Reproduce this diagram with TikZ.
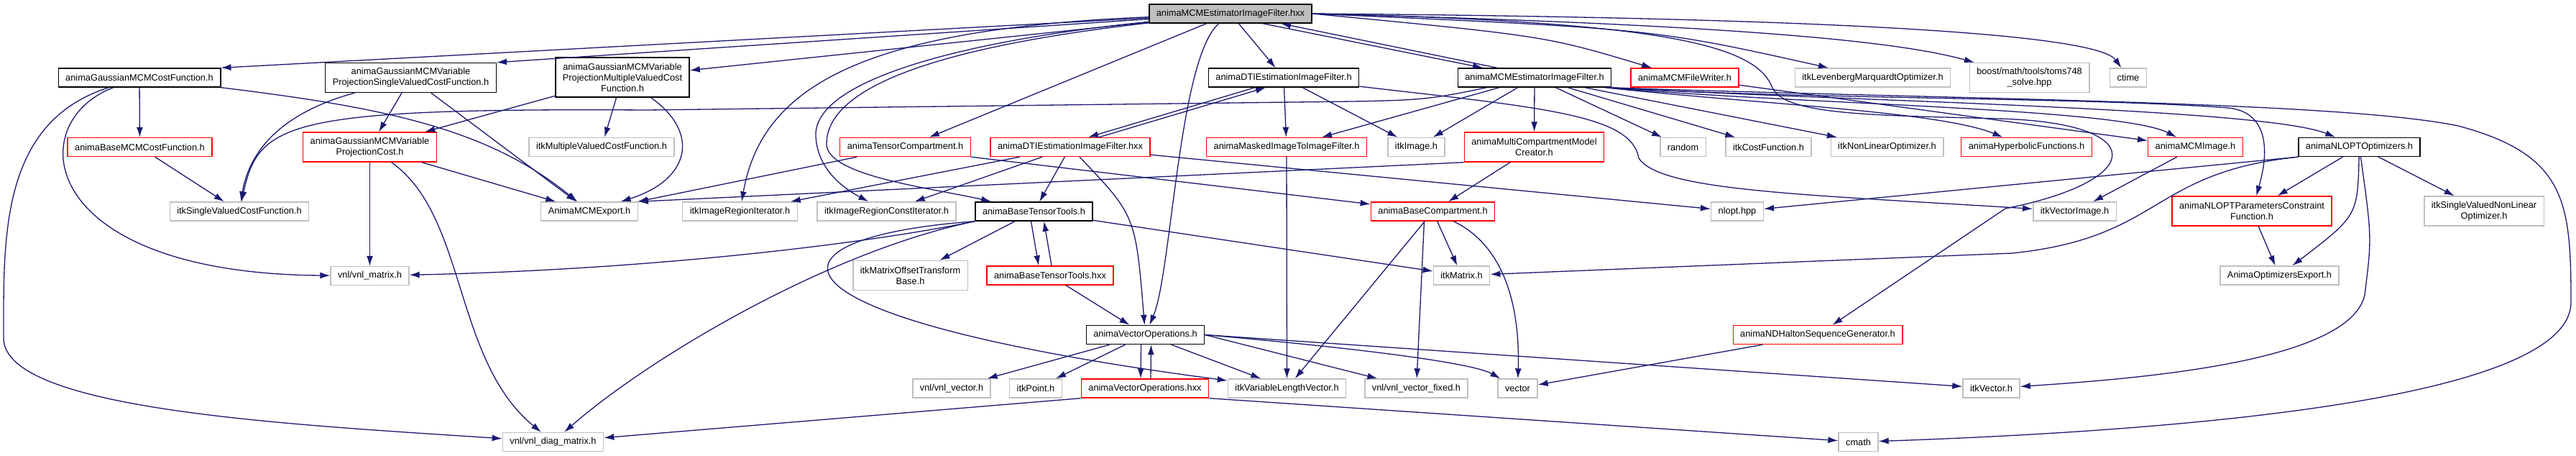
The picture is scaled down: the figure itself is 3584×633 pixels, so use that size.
\documentclass[tikz,border=0pt]{standalone}
\usepackage{fontspec}
\setmainfont{Liberation Sans}
\usetikzlibrary{arrows.meta}
\definecolor{edgeblue}{HTML}{191970}
\definecolor{extgrey}{HTML}{BFBFBF}

\begin{document}
\begin{tikzpicture}[
    x=1pt, y=-1pt,
    file/.style={
        draw,
        line width=1.4pt,
        minimum height=26pt,
        inner xsep=10pt,
        inner ysep=3pt,
        align=center,
        font=\fontsize{12.8}{15}\selectfont
    },
    intern/.style={file, draw=black},
    trunc/.style={file, draw=red},
    extern/.style={file, draw=extgrey},
    rootfile/.style={file, draw=black, fill=extgrey},
    dep/.style={-{Latex[length=14pt, width=9pt]}, draw=edgeblue, line width=1.3pt}
]
\useasboundingbox (0,0) rectangle (3584,633);

\node[rootfile] (root) at (1712,19) {animaMCMEstimatorImageFilter.hxx};

\node[intern] (gausscost) at (194,108) {animaGaussianMCMCostFunction.h};
\node[intern, minimum height=41pt] (gausssingle) at (571.5,108) {animaGaussianMCMVariable\\ProjectionSingleValuedCostFunction.h};
\node[intern, minimum height=55pt] (gaussmulti) at (866,107.5) {animaGaussianMCMVariable\\ProjectionMultipleValuedCost\\Function.h};
\node[intern] (dtih) at (1786,108) {animaDTIEstimationImageFilter.h};
\node[intern] (mcmh) at (2135,108) {animaMCMEstimatorImageFilter.h};
\node[trunc] (mcmfilewriter) at (2344,108) {animaMCMFileWriter.h};
\node[extern] (itklm) at (2605.5,108) {itkLevenbergMarquardtOptimizer.h};
\node[extern, minimum height=41pt] (boost) at (2823.5,108) {boost/math/tools/toms748\\\_solve.hpp};
\node[extern] (ctime) at (2961,108) {ctime};

\node[trunc] (basemcmcost) at (194.5,204.5) {animaBaseMCMCostFunction.h};
\node[trunc, minimum height=41pt] (gaussprojcost) at (514.5,204.5) {animaGaussianMCMVariable\\ProjectionCost.h};
\node[extern] (itkmultivcf) at (837,204.5) {itkMultipleValuedCostFunction.h};
\node[trunc] (tensorcomp) at (1259.5,204.5) {animaTensorCompartment.h};
\node[trunc] (dtihxx) at (1489,204.5) {animaDTIEstimationImageFilter.hxx};
\node[trunc] (masked) at (1790,204.5) {animaMaskedImageToImageFilter.h};
\node[extern] (itkimage) at (1970.5,204.5) {itkImage.h};
\node[trunc, minimum height=41pt] (mcmcreator) at (2134.5,204.5) {animaMultiCompartmentModel\\Creator.h};
\node[extern] (random) at (2341.5,204.5) {random};
\node[extern] (itkcostfn) at (2460.5,204.5) {itkCostFunction.h};
\node[extern] (itknonlinopt) at (2625.5,204.5) {itkNonLinearOptimizer.h};
\node[trunc] (hyperbolic) at (2819.5,204.5) {animaHyperbolicFunctions.h};
\node[trunc] (mcmimage) at (3054.5,204.5) {animaMCMImage.h};
\node[intern] (nloptopt) at (3282.5,204.5) {animaNLOPTOptimizers.h};

\node[extern] (itksinglevcf) at (333,294) {itkSingleValuedCostFunction.h};
\node[extern] (mcmexport) at (820,294) {AnimaMCMExport.h};
\node[extern] (itkregioniter) at (1029.5,294) {itkImageRegionIterator.h};
\node[extern] (itkregionconstiter) at (1233.5,294) {itkImageRegionConstIterator.h};
\node[intern] (tensortools) at (1438.5,294) {animaBaseTensorTools.h};
\node[trunc] (basecomp) at (1993.5,294) {animaBaseCompartment.h};
\node[extern] (nlopt) at (2417,294) {nlopt.hpp};
\node[extern] (itkvectorimage) at (2886.5,294) {itkVectorImage.h};
\node[trunc, minimum height=41pt] (nloptconstraint) at (3133,293.5) {animaNLOPTParametersConstraint\\Function.h};
\node[extern, minimum height=41pt] (itksvnlo) at (3456,293.5) {itkSingleValuedNonLinear\\Optimizer.h};

\node[extern] (vnlmatrix) at (514.5,383.5) {vnl/vnl\_matrix.h};
\node[extern, minimum height=41pt] (matrixoffset) at (1266.5,383) {itkMatrixOffsetTransform\\Base.h};
\node[trunc] (tensortoolshxx) at (1461,383) {animaBaseTensorTools.hxx};
\node[extern] (itkmatrix) at (2033.5,383) {itkMatrix.h};
\node[extern] (optexport) at (3171.5,383) {AnimaOptimizersExport.h};

\node[intern] (vectoropsh) at (1593.5,465.5) {animaVectorOperations.h};
\node[trunc] (halton) at (2529,465.5) {animaNDHaltonSequenceGenerator.h};

\node[extern] (vnlvector) at (1324,540) {vnl/vnl\_vector.h};
\node[extern] (itkpoint) at (1441,540) {itkPoint.h};
\node[trunc] (vectoropshxx) at (1593,540) {animaVectorOperations.hxx};
\node[extern] (itkvlv) at (1790.5,540) {itkVariableLengthVector.h};
\node[extern] (vnlvectorfixed) at (1970.5,540) {vnl/vnl\_vector\_fixed.h};
\node[extern] (vector) at (2111.5,540) {vector};
\node[extern] (itkvector) at (2770.5,540) {itkVector.h};

\node[extern] (vnldiag) at (769.5,614.5) {vnl/vnl\_diag\_matrix.h};
\node[extern] (cmath) at (2585.5,614.5) {cmath};

\draw[dep] (root) -- (gausscost.north east);
\draw[dep] (root) -- (gausssingle.north east);
\draw[dep] (root) -- (gaussmulti);
\draw[dep] (root) .. controls (1200,40) and (1060,120) .. (itkregioniter);
\draw[dep] (root) .. controls (1350,55) and (1130,110) .. (1135,190) .. controls (1138,240) and (1180,265) .. (itkregionconstiter);
\draw[dep] (root) .. controls (1350,60) and (1150,110) .. (1150,200) .. controls (1150,245) and (1300,262) .. (tensortools);
\draw[dep] (root) -- (tensorcomp);
\draw[dep] (root) .. controls (1640,80) and (1630,380) .. (vectoropsh);
\draw[dep] (root) -- (dtih);
\draw[dep] ([xshift=45]root.south) -- ([xshift=-72]mcmh.north);
\draw[dep] ([xshift=-52]mcmh.north) -- ([xshift=70]root.south);
\draw[dep] (root.east) .. controls (2150,50) .. (mcmfilewriter);
\draw[dep] (root.east) .. controls (2300,40) .. (itklm);
\draw[dep] (root.east) .. controls (2450,35) and (2650,60) .. (boost);
\draw[dep] (root.east) .. controls (2600,25) and (2920,50) .. (ctime);
\draw[dep] (root.east) .. controls (2300,30) and (2440,60) .. (2465,120) .. controls (2480,160) and (2600,160) .. (2780,165) .. controls (2990,170) and (2990,250) .. (2790,290) -- (halton);

\draw[dep] (gausscost) -- (basemcmcost);
\draw[dep] (gausscost.south east) .. controls (540,150) and (680,180) .. (mcmexport);
\draw[dep] (gausscost) .. controls (30,170) and (50,380) .. (vnlmatrix);
\draw[dep] (gausscost) .. controls (0,170) and (5,330) .. (5,470) .. controls (5,570) and (400,590) .. (vnldiag);

\draw[dep] (gausssingle) .. controls (380,160) and (345,220) .. (itksinglevcf);
\draw[dep] (gausssingle) -- (gaussprojcost);
\draw[dep] (gausssingle) -- (mcmexport);

\draw[dep] (gaussmulti) -- (gaussprojcost);
\draw[dep] (gaussmulti) -- (itkmultivcf);
\draw[dep] (gaussmulti) .. controls (975,185) and (960,250) .. (mcmexport);

\draw[dep] (basemcmcost) -- (itksinglevcf);

\draw[dep] (gaussprojcost) -- (vnlmatrix);
\draw[dep] (gaussprojcost) .. controls (650,300) and (630,500) .. (vnldiag);
\draw[dep] (gaussprojcost) -- (mcmexport);

\draw[dep] ([xshift=-40]dtih.south) -- ([xshift=25]dtihxx.north);
\draw[dep] ([xshift=40]dtihxx.north) -- ([xshift=-25]dtih.south);
\draw[dep] (dtih) -- (masked);
\draw[dep] (dtih) -- (itkimage);
\draw[dep] (dtih) .. controls (2150,150) and (2270,160) .. (2280,220) .. controls (2310,265) and (2500,270) .. (itkvectorimage);

\draw[dep] (mcmh) .. controls (1980,140) .. (1800,142) -- (900,153) .. controls (400,150) and (360,170) .. (itksinglevcf);
\draw[dep] (mcmh) -- (masked);
\draw[dep] (mcmh) -- (itkimage);
\draw[dep] (mcmh) -- (mcmcreator);
\draw[dep] (mcmh) -- (random);
\draw[dep] (mcmh) -- (itkcostfn);
\draw[dep] (mcmh) -- (itknonlinopt);
\draw[dep] ([xshift=-10]mcmh.south east) .. controls (2450,145) and (2700,155) .. (hyperbolic);
\draw[dep] ([xshift=-8]mcmh.south east) .. controls (2500,145) and (2950,150) .. (mcmimage);
\draw[dep] ([xshift=-6]mcmh.south east) .. controls (2550,140) and (3150,150) .. (nloptopt);
\draw[dep] ([xshift=-4]mcmh.south east) .. controls (2500,138) and (2900,135) .. (3100,150) .. controls (3150,155) and (3160,200) .. (nloptconstraint);
\draw[dep] ([xshift=-2]mcmh.south east) .. controls (2700,138) and (3250,140) .. (3420,175) .. controls (3570,215) and (3577,280) .. (3577,420) .. controls (3577,560) and (3000,600) .. (cmath);

\draw[dep] (dtihxx) -- (itkregioniter);
\draw[dep] (dtihxx) -- (itkregionconstiter);
\draw[dep] (dtihxx) -- (tensortools);
\draw[dep] (dtihxx) .. controls (1580,300) .. (vectoropsh);
\draw[dep] (dtihxx) -- (nlopt);

\draw[dep] (tensorcomp) -- (mcmexport);
\draw[dep] (tensorcomp.south east) -- (basecomp);

\draw[dep] (masked) -- (itkvlv);

\draw[dep] (mcmcreator.south west) -- (mcmexport.north east);
\draw[dep] (mcmcreator) -- (basecomp);

\draw[dep] (tensortools.south west) .. controls (1200,340) and (900,375) .. (vnlmatrix);
\draw[dep] (tensortools.south west) .. controls (1150,350) and (900,500) .. (vnldiag);
\draw[dep] (tensortools.south west) .. controls (1050,330) and (1030,440) .. (itkvlv);
\draw[dep] (tensortools) -- (matrixoffset);
\draw[dep] ([xshift=-4]tensortools.south) -- ([xshift=-16]tensortoolshxx.north);
\draw[dep] ([xshift=2]tensortoolshxx.north) -- ([xshift=14]tensortools.south);
\draw[dep] (tensortools) -- (itkmatrix);

\draw[dep] (tensortoolshxx) -- (vectoropsh);

\draw[dep] (vectoropsh) -- (vnlvector);
\draw[dep] (vectoropsh) -- (itkpoint);
\draw[dep] ([xshift=-6]vectoropsh.south) -- ([xshift=-6]vectoropshxx.north);
\draw[dep] ([xshift=8]vectoropshxx.north) -- ([xshift=8]vectoropsh.south);
\draw[dep] (vectoropsh) -- (itkvlv);
\draw[dep] (vectoropsh.east) -- (vnlvectorfixed);
\draw[dep] (vectoropsh.east) .. controls (1900,485) and (2050,505) .. (vector);
\draw[dep] (vectoropsh.east) -- (itkvector);

\draw[dep] (vectoropshxx.south west) -- (vnldiag);
\draw[dep] (vectoropshxx.south east) -- (cmath);

\draw[dep] (basecomp) -- (itkvlv);
\draw[dep] ([xshift=-12]basecomp.south) -- (vnlvectorfixed);
\draw[dep] (basecomp) -- (itkmatrix);
\draw[dep] (basecomp) .. controls (2090,340) and (2115,420) .. (vector);

\draw[dep] (halton) -- (vector);

\draw[dep] (mcmfilewriter) -- (mcmimage);
\draw[dep] (mcmimage) -- (itkvectorimage);

\draw[dep] (nloptopt.south west) -- (nlopt);
\draw[dep] (nloptopt.south west) .. controls (2990,240) and (3010,330) .. (2800,352) -- (itkmatrix);
\draw[dep] (nloptopt) -- (nloptconstraint);
\draw[dep] (nloptopt) .. controls (3280,300) .. (optexport);
\draw[dep] (nloptopt) .. controls (3300,330) .. (3290,410) .. controls (3270,500) and (3000,525) .. (itkvector);
\draw[dep] (nloptopt) -- (itksvnlo);

\draw[dep] (nloptconstraint) -- (optexport);
\end{tikzpicture}
\end{document}
